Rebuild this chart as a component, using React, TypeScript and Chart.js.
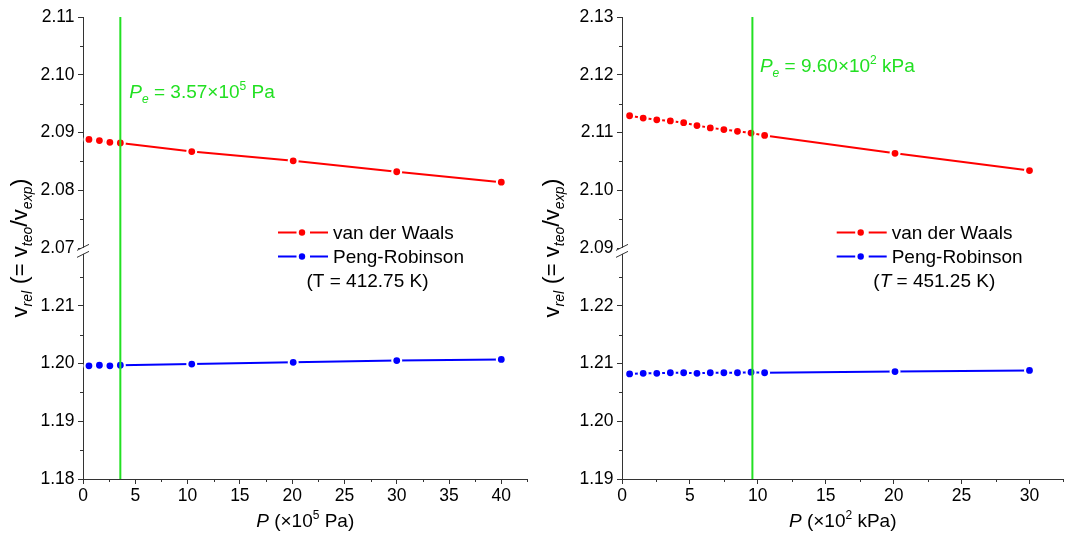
import React, { useEffect, useRef } from 'react';
import { Chart, registerables } from 'chart.js';

Chart.register(...registerables);

const FONT = '"Liberation Sans", Arial, Helvetica, sans-serif';
const RED = '#ff0000';
const BLUE = '#0000ff';
const GREEN = '#22e022';
const AXIS = '#333333';

// ---------- Left panel (T = 412.75 K), P in 10^5 Pa ----------
const leftPressure = [0.57, 1.57, 2.57, 3.57, 10.4, 20.1, 30.0, 40.0];
const leftVdW = [2.0888, 2.0886, 2.0883, 2.0882, 2.0867, 2.0851, 2.0832, 2.0814];
const leftPR = [1.1996, 1.1997, 1.1996, 1.1997, 1.1999, 1.2002, 1.2005, 1.2007];
const leftXTicks = [0, 5, 10, 15, 20, 25, 30, 35, 40];
const leftXMinor = [2.5, 7.5, 12.5, 17.5, 22.5, 27.5, 32.5, 37.5, 42.5];
const leftUpperTicks = [2.07, 2.08, 2.09, 2.1, 2.11];
const leftUpperMinor = [2.075, 2.085, 2.095, 2.105];
const leftLowerTicks = [1.18, 1.19, 1.2, 1.21];
const leftLowerMinor = [1.185, 1.195, 1.205, 1.215];
const leftPe = 3.57;

// ---------- Right panel (T = 451.25 K), P in 10^2 kPa ----------
const rightPressure = [0.56, 1.56, 2.56, 3.56, 4.54, 5.52, 6.5, 7.5, 8.5, 9.5, 10.5, 20.1, 30.0];
const rightVdW = [2.1129, 2.1125, 2.1122, 2.112, 2.1117, 2.1112, 2.1108, 2.1105, 2.1102, 2.1099, 2.1095, 2.1064, 2.1034];
const rightPR = [1.2082, 1.2083, 1.2083, 1.2084, 1.2084, 1.2083, 1.2084, 1.2084, 1.2084, 1.2085, 1.2084, 1.2086, 1.2088];
const rightXTicks = [0, 5, 10, 15, 20, 25, 30];
const rightXMinor = [2.5, 7.5, 12.5, 17.5, 22.5, 27.5, 32.5];
const rightUpperTicks = [2.09, 2.1, 2.11, 2.12, 2.13];
const rightUpperMinor = [2.095, 2.105, 2.115, 2.125];
const rightLowerTicks = [1.19, 1.2, 1.21, 1.22];
const rightLowerMinor = [1.195, 1.205, 1.215, 1.225];
const rightPe = 9.6;

const seriesNames = ['van der Waals', 'Peng-Robinson'];

type Run = { t: string; size: number; italic?: boolean; dy?: number };

function runsWidth(ctx: CanvasRenderingContext2D, runs: Run[]) {
  let w = 0;
  for (const r of runs) {
    ctx.font = `${r.italic ? 'italic ' : ''}${r.size}px ${FONT}`;
    w += ctx.measureText(r.t).width;
  }
  return w;
}

function drawRuns(ctx: CanvasRenderingContext2D, runs: Run[], x: number, y: number, color: string, align: 'left' | 'center') {
  ctx.save();
  ctx.fillStyle = color;
  ctx.textBaseline = 'alphabetic';
  ctx.textAlign = 'left';
  let cx = align === 'center' ? x - runsWidth(ctx, runs) / 2 : x;
  for (const r of runs) {
    ctx.font = `${r.italic ? 'italic ' : ''}${r.size}px ${FONT}`;
    ctx.fillText(r.t, cx, y + (r.dy || 0));
    cx += ctx.measureText(r.t).width;
  }
  ctx.restore();
}

interface Panel {
  pressure: number[];
  vdw: number[];
  pr: number[];
  xTicks: number[];
  xMinor: number[];
  xMax: number;
  upperTicks: number[];
  upperMinor: number[];
  upperMin: number;
  upperMax: number;
  lowerTicks: number[];
  lowerMinor: number[];
  lowerMin: number;
  lowerMax: number;
  pe: number;
  peLabel: Run[];
  peDx: number;
  peBaseline: number;
  tempLabel: Run[];
  legendX: number;
  legendTextX: number;
  legendTempX: number;
  xTitle: Run[];
  padLeft: number;
}

const TICK = 17.5;
const BIG = 19;
const SMALL = 12;

const panels: Panel[] = [
  {
    pressure: leftPressure,
    vdw: leftVdW,
    pr: leftPR,
    xTicks: leftXTicks,
    xMinor: leftXMinor,
    xMax: 42.5,
    upperTicks: leftUpperTicks,
    upperMinor: leftUpperMinor,
    upperMin: 2.0695,
    upperMax: 2.11,
    lowerTicks: leftLowerTicks,
    lowerMinor: leftLowerMinor,
    lowerMin: 1.18,
    lowerMax: 1.2195,
    pe: leftPe,
    peLabel: [
      { t: 'P', size: BIG, italic: true },
      { t: 'e', size: SMALL, italic: true, dy: 5 },
      { t: ' = 3.57\u00d710', size: BIG },
      { t: '5', size: SMALL, dy: -8 },
      { t: ' Pa', size: BIG },
    ],
    peDx: 9,
    peBaseline: 98,
    tempLabel: [{ t: '(T = 412.75 K)', size: BIG }],
    legendX: 278,
    legendTextX: 333,
    legendTempX: 306.5,
    xTitle: [
      { t: 'P', size: BIG, italic: true },
      { t: ' (\u00d710', size: BIG },
      { t: '5', size: SMALL, dy: -8 },
      { t: ' Pa)', size: BIG },
    ],
    padLeft: 23,
  },
  {
    pressure: rightPressure,
    vdw: rightVdW,
    pr: rightPR,
    xTicks: rightXTicks,
    xMinor: rightXMinor,
    xMax: 32.5,
    upperTicks: rightUpperTicks,
    upperMinor: rightUpperMinor,
    upperMin: 2.0895,
    upperMax: 2.13,
    lowerTicks: rightLowerTicks,
    lowerMinor: rightLowerMinor,
    lowerMin: 1.19,
    lowerMax: 1.2295,
    pe: rightPe,
    peLabel: [
      { t: 'P', size: BIG, italic: true },
      { t: 'e', size: SMALL, italic: true, dy: 5 },
      { t: ' = 9.60\u00d710', size: BIG },
      { t: '2', size: SMALL, dy: -8 },
      { t: ' kPa', size: BIG },
    ],
    peDx: 7.5,
    peBaseline: 72,
    tempLabel: [
      { t: '(', size: BIG },
      { t: 'T', size: BIG, italic: true },
      { t: ' = 451.25 K)', size: BIG },
    ],
    legendX: 304.7,
    legendTextX: 359.7,
    legendTempX: 341.3,
    xTitle: [
      { t: 'P', size: BIG, italic: true },
      { t: ' (\u00d710', size: BIG },
      { t: '2', size: SMALL, dy: -8 },
      { t: ' kPa)', size: BIG },
    ],
    padLeft: 30,
  },
];

const yTitle: Run[] = [
  { t: 'v', size: 22 },
  { t: 'rel', size: 14, italic: true, dy: 5 },
  { t: ' (', size: 24 },
  { t: '= v', size: 22 },
  { t: 'teo', size: 14, italic: true, dy: 5 },
  { t: '/', size: 24 },
  { t: 'v', size: 22 },
  { t: 'exp', size: 14, italic: true, dy: 5 },
  { t: ')', size: 24 },
];

function makePlugin(p: Panel) {
  return {
    id: 'extras',
    afterDatasetsDraw(chart: any) {
      const ctx: CanvasRenderingContext2D = chart.ctx;
      const area = chart.chartArea;
      const px = chart.scales.x.getPixelForValue(p.pe);
      ctx.save();
      ctx.strokeStyle = GREEN;
      ctx.lineWidth = 2;
      ctx.beginPath();
      ctx.moveTo(px, area.top);
      ctx.lineTo(px, area.bottom);
      ctx.stroke();
      ctx.restore();
    },
    afterDraw(chart: any) {
      const ctx: CanvasRenderingContext2D = chart.ctx;
      const area = chart.chartArea;
      const sx = chart.scales.x;
      const yU = chart.scales.yU;
      const yL = chart.scales.yL;
      ctx.save();
      ctx.strokeStyle = AXIS;
      ctx.lineWidth = 1;
      // minor ticks
      ctx.beginPath();
      for (const v of p.xMinor) {
        const x = Math.round(sx.getPixelForValue(v)) + 0.5;
        ctx.moveTo(x, area.bottom);
        ctx.lineTo(x, area.bottom + 3);
      }
      for (const v of p.upperMinor) {
        const y = Math.round(yU.getPixelForValue(v)) + 0.5;
        ctx.moveTo(area.left, y);
        ctx.lineTo(area.left - 3, y);
      }
      for (const v of p.lowerMinor) {
        if (v > p.lowerMax) continue;
        const y = Math.round(yL.getPixelForValue(v)) + 0.5;
        ctx.moveTo(area.left, y);
        ctx.lineTo(area.left - 3, y);
      }
      ctx.stroke();

      // axis break
      const j = Math.max(yU.bottom, yL.top);
      const ax = area.left;
      ctx.fillStyle = '#ffffff';
      ctx.fillRect(ax - 2, j - 3, 4, 6);
      ctx.beginPath();
      ctx.moveTo(ax - 6, j - 0.5);
      ctx.lineTo(ax + 6, j - 6.5);
      ctx.moveTo(ax - 6, j + 6.5);
      ctx.lineTo(ax + 6, j + 0.5);
      ctx.stroke();
      ctx.restore();

      // Pe annotation
      const gx = sx.getPixelForValue(p.pe);
      drawRuns(ctx, p.peLabel, gx + p.peDx, p.peBaseline, GREEN, 'left');

      // legend
      const rows = [
        { color: RED, name: seriesNames[0], y: 232.5 },
        { color: BLUE, name: seriesNames[1], y: 256.5 },
      ];
      for (const r of rows) {
        ctx.save();
        ctx.strokeStyle = r.color;
        ctx.fillStyle = r.color;
        ctx.lineWidth = 2;
        ctx.beginPath();
        ctx.moveTo(p.legendX, r.y);
        ctx.lineTo(p.legendX + 18.5, r.y);
        ctx.moveTo(p.legendX + 32, r.y);
        ctx.lineTo(p.legendX + 50, r.y);
        ctx.stroke();
        ctx.beginPath();
        ctx.arc(p.legendX + 24, r.y, 3.2, 0, Math.PI * 2);
        ctx.fill();
        ctx.restore();
        drawRuns(ctx, [{ t: r.name, size: BIG }], p.legendTextX, r.y + 6.5, '#000', 'left');
      }
      drawRuns(ctx, p.tempLabel, p.legendTempX, 287, '#000', 'left');

      // x title
      drawRuns(ctx, p.xTitle, (area.left + area.right) / 2, 527, '#000', 'center');

      // y title
      ctx.save();
      ctx.translate(27, (area.top + area.bottom) / 2);
      ctx.rotate(-Math.PI / 2);
      drawRuns(ctx, yTitle, 0, 0, '#000', 'center');
      ctx.restore();
    },
  };
}

function yScale(min: number, max: number, ticks: number[], weight: number) {
  return {
    type: 'linear',
    position: 'left',
    stack: 'v',
    stackWeight: weight,
    min,
    max,
    z: 1,
    afterBuildTicks: (s: any) => {
      s.ticks = ticks.map((v) => ({ value: v }));
    },
    afterFit: (s: any) => {
      s.width = 60;
    },
    border: { display: true, color: AXIS, width: 1 },
    grid: { display: true, drawOnChartArea: false, drawTicks: true, tickLength: 5, color: AXIS, tickColor: AXIS },
    ticks: {
      color: '#000',
      padding: 3.5,
      font: { family: FONT, size: TICK },
      callback: (v: any) => Number(v).toFixed(2),
    },
  };
}

function Canvas({ p, left, width }: { p: Panel; left: number; width: number }) {
  const ref = useRef<HTMLCanvasElement | null>(null);
  useEffect(() => {
    if (!ref.current) return;
    const vdwData = p.pressure.map((x, i) => ({ x, y: p.vdw[i] }));
    const prData = p.pressure.map((x, i) => ({ x, y: p.pr[i] }));
    const ds = (label: string, data: any[], color: string, axis: string) => ({
      label,
      data,
      yAxisID: axis,
      borderColor: color,
      backgroundColor: color,
      borderWidth: 2,
      pointRadius: 4.45,
      pointHoverRadius: 4.45,
      pointBorderWidth: 2.1,
      pointBorderColor: '#ffffff',
      pointBackgroundColor: color,
      tension: 0,
      clip: false,
    });
    const chart = new Chart(ref.current, {
      type: 'line',
      data: {
        datasets: [ds(seriesNames[0], vdwData, RED, 'yU'), ds(seriesNames[1], prData, BLUE, 'yL')],
      },
      options: {
        responsive: false,
        animation: false,
        events: [],
        layout: { padding: { left: p.padLeft, right: 0, top: 17, bottom: 35 } },
        plugins: { legend: { display: false }, tooltip: { enabled: false }, title: { display: false } },
        scales: {
          x: {
            type: 'linear',
            position: 'bottom',
            min: 0,
            max: p.xMax,
            z: 1,
            afterBuildTicks: (s: any) => {
              s.ticks = p.xTicks.map((v) => ({ value: v }));
            },
            afterFit: (s: any) => {
              s.height = 30;
            },
            border: { display: true, color: AXIS, width: 1 },
            grid: { display: true, drawOnChartArea: false, drawTicks: true, tickLength: 5, color: AXIS, tickColor: AXIS },
            ticks: {
              color: '#000',
              padding: 2,
              maxRotation: 0,
              autoSkip: false,
              font: { family: FONT, size: TICK },
              callback: (v: any) => String(v),
            },
          },
          // lower axis listed first so that the upper axis is stacked on top
          yL: yScale(p.lowerMin, p.lowerMax, p.lowerTicks, p.lowerMax - p.lowerMin),
          yU: yScale(p.upperMin, p.upperMax, p.upperTicks, p.upperMax - p.upperMin),
        } as any,
      },
      plugins: [makePlugin(p)],
    } as any);
    return () => chart.destroy();
  }, [p]);
  return (
    <canvas
      ref={ref}
      width={width}
      height={544}
      style={{ position: 'absolute', left, top: 0, width, height: 544, display: 'block' }}
    />
  );
}

export default function App() {
  return (
    <div style={{ position: 'absolute', left: 0, top: 0, width: 1065, height: 544, background: '#fff', overflow: 'hidden' }}>
      <Canvas p={panels[0]} left={0} width={534} />
      <Canvas p={panels[1]} left={532} width={538} />
    </div>
  );
}
